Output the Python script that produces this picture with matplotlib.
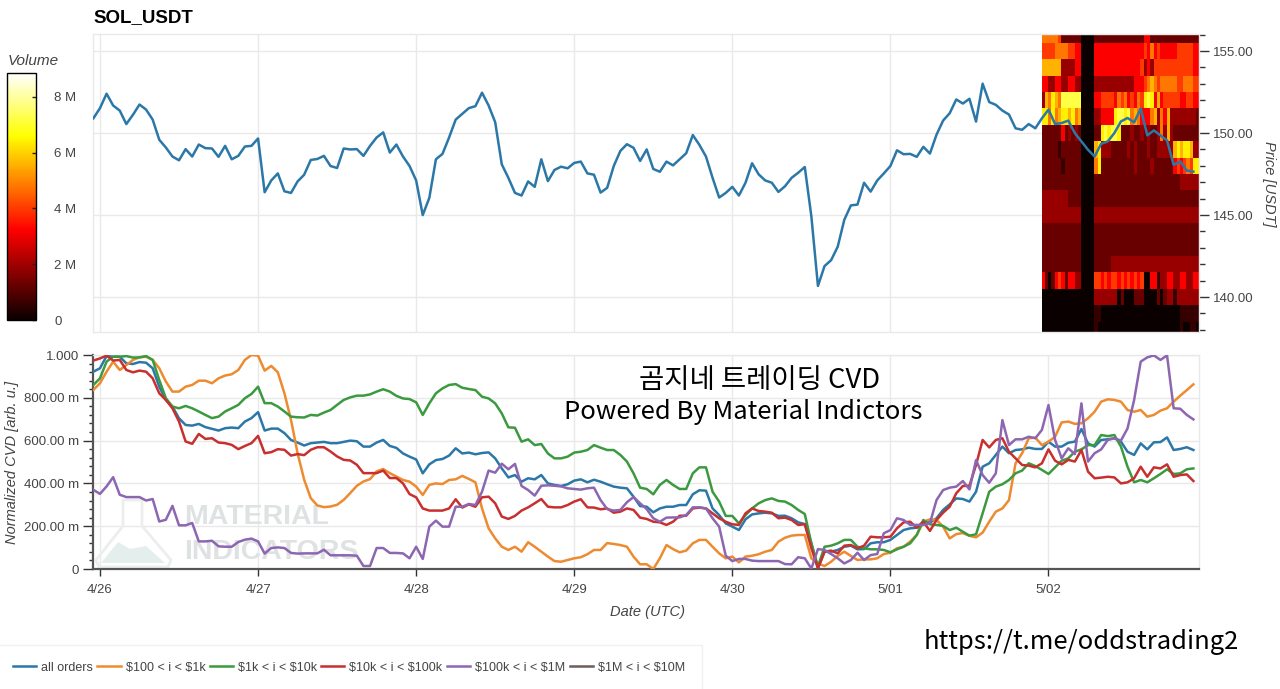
import matplotlib
matplotlib.use('Agg')
import matplotlib.pyplot as plt
from matplotlib.lines import Line2D
from matplotlib.patches import Polygon
import numpy as np

plt.rcParams['font.family'] = ['Liberation Sans', 'DejaVu Sans']

W, H = 1280, 689

day_labels = ['4/26', '4/27', '4/28', '4/29', '4/30', '5/01', '5/02']
day_hours = [0, 24, 48, 72, 96, 120, 144]

# hourly samples, first one is one hour before 4/26 00:00
price = [150.90, 151.52, 152.40, 151.68, 151.37, 150.55, 151.11, 151.74, 151.43, 150.82, 149.59, 149.12,
         148.57, 148.34, 149.02, 148.57, 149.30, 149.08, 149.06, 148.55, 149.22, 148.40, 148.61, 149.18,
         149.22, 149.67, 146.39, 147.11, 147.54, 146.45, 146.35, 147.05, 147.46, 148.36, 148.42, 148.61,
         147.99, 147.87, 149.06, 149.00, 149.02, 148.61, 149.22, 149.73, 150.04, 148.81, 149.30, 148.57,
         147.99, 147.11, 145.00, 146.05, 148.40, 148.73, 149.73, 150.82, 151.17, 151.52, 151.64, 152.46,
         151.68, 150.66, 148.09, 147.27, 146.35, 146.19, 147.05, 146.72, 148.40, 147.07, 147.75, 147.95,
         147.85, 148.18, 148.26, 147.54, 147.46, 146.37, 146.66, 147.99, 148.91, 149.32, 149.10, 148.30,
         149.00, 147.81, 147.64, 148.26, 148.03, 148.40, 148.77, 149.88, 149.28, 148.57, 147.27, 146.07,
         146.35, 146.72, 146.19, 146.97, 148.16, 147.48, 147.11, 146.97, 146.41, 146.76, 147.27, 147.58,
         147.93, 144.92, 140.68, 141.89, 142.25, 143.07, 144.71, 145.59, 145.64, 146.97, 146.43, 147.11,
         147.54, 147.99, 148.95, 148.71, 148.73, 148.55, 149.16, 148.75, 149.90, 150.76, 151.21, 152.05,
         151.80, 152.09, 150.70, 153.01, 151.89, 151.72, 151.37, 151.13, 150.29, 150.20, 150.55, 150.29,
         150.90, 151.43, 150.55, 150.61, 150.76, 150.00, 149.49, 148.98, 148.57, 149.35, 149.49, 150.00,
         150.71, 150.92, 150.65, 151.49, 149.86, 150.16, 149.86, 149.55, 148.06, 148.27, 147.71, 147.65]

# normalized cvd, in milli units
all_orders = [922, 938, 995, 992, 992, 961, 958, 967, 964, 938, 852, 790, 759, 704, 673, 670, 678, 663, 655, 647,
              658, 661, 658, 689, 705, 733, 647, 656, 656, 635, 603, 591, 577, 588, 591, 594, 588, 588, 594, 600,
              597, 572, 572, 591, 603, 575, 566, 540, 525, 512, 447, 489, 509, 514, 530, 564, 540, 544, 536, 542,
              545, 517, 470, 428, 439, 408, 424, 419, 439, 400, 393, 388, 396, 413, 419, 405, 417, 408, 396, 385,
              380, 377, 338, 294, 291, 265, 283, 291, 291, 299, 299, 349, 368, 366, 283, 252, 213, 198, 182, 232,
              255, 260, 263, 260, 248, 249, 237, 218, 210, 120, 3, 81, 81, 89, 104, 109, 92, 93, 120, 125,
              125, 136, 159, 182, 190, 193, 221, 217, 237, 276, 302, 330, 327, 315, 361, 478, 494, 533, 572,
              541, 556, 559, 567, 561, 561, 595, 572, 572, 590, 595, 654, 587, 572, 603, 606, 611, 595, 548, 533,
              587, 559, 592, 593, 615, 556, 561, 569, 556]
tier_100_1k = [837, 868, 922, 969, 930, 953, 977, 989, 992, 977, 938, 876, 829, 829, 852, 860, 880, 880, 868, 891,
               904, 910, 930, 977, 1000, 997, 927, 949, 919, 821, 697, 541, 417, 331, 297, 289, 292, 300, 323, 355,
               389, 409, 420, 456, 467, 448, 432, 416, 408, 385, 346, 393, 400, 397, 416, 419, 435, 421, 405, 283,
               190, 143, 104, 89, 104, 81, 125, 104, 81, 58, 37, 34, 42, 50, 55, 69, 89, 89, 121, 117,
               112, 104, 58, 22, 22, 0, 50, 112, 93, 78, 86, 120, 136, 136, 104, 73, 50, 58, 31, 58,
               62, 69, 81, 89, 128, 146, 156, 159, 159, 50, 26, 14, 34, 61, 81, 61, 42, 45, 45, 50,
               70, 76, 97, 104, 128, 159, 221, 232, 229, 198, 143, 163, 168, 155, 148, 170, 221, 268, 283, 322,
               494, 541, 611, 614, 579, 595, 618, 685, 689, 678, 681, 704, 735, 782, 793, 790, 782, 743, 735, 743,
               712, 720, 740, 751, 782, 810, 836, 863]
tier_1k_10k = [860, 891, 969, 992, 992, 995, 988, 989, 995, 977, 883, 798, 759, 751, 762, 751, 736, 720, 705, 712,
               736, 751, 767, 798, 818, 852, 775, 775, 759, 736, 712, 709, 708, 720, 717, 731, 743, 767, 790, 802,
               810, 810, 816, 829, 840, 829, 809, 797, 794, 779, 720, 774, 821, 844, 860, 864, 847, 841, 836, 805,
               797, 774, 727, 662, 660, 595, 606, 579, 584, 540, 517, 517, 525, 544, 548, 556, 579, 567, 556, 556,
               533, 502, 447, 380, 374, 349, 393, 416, 393, 374, 374, 447, 475, 475, 361, 315, 248, 248, 213, 252,
               283, 307, 322, 330, 318, 315, 299, 276, 257, 120, 11, 104, 109, 120, 136, 136, 104, 97, 92, 92,
               89, 78, 92, 104, 120, 159, 229, 209, 206, 201, 182, 193, 174, 156, 162, 260, 361, 385, 396, 416,
               447, 460, 494, 481, 463, 444, 475, 506, 517, 548, 559, 579, 579, 626, 621, 626, 572, 478, 405, 416,
               405, 424, 444, 466, 444, 447, 466, 470]
tier_10k_100k = [974, 984, 997, 974, 977, 930, 919, 927, 922, 891, 821, 790, 751, 689, 596, 585, 631, 608, 611, 591,
                 588, 580, 560, 575, 588, 622, 541, 546, 560, 557, 530, 537, 532, 557, 569, 569, 549, 526, 510, 507,
                 487, 448, 448, 448, 460, 425, 425, 400, 350, 335, 283, 273, 273, 273, 283, 326, 287, 302, 291, 335,
                 338, 307, 245, 234, 248, 273, 288, 307, 327, 291, 288, 288, 299, 315, 326, 288, 287, 279, 283, 263,
                 268, 283, 276, 240, 234, 221, 218, 206, 221, 249, 249, 283, 287, 283, 260, 237, 221, 209, 206, 260,
                 283, 271, 268, 263, 237, 240, 229, 206, 209, 97, 3, 81, 86, 73, 109, 112, 97, 109, 151, 148,
                 148, 151, 190, 218, 221, 193, 221, 178, 229, 263, 291, 354, 388, 389, 486, 603, 568, 603, 611, 548,
                 517, 486, 483, 475, 494, 559, 506, 489, 510, 502, 556, 455, 424, 427, 431, 428, 400, 405, 424, 478,
                 431, 475, 470, 489, 431, 439, 442, 411]
tier_100k_1m = [370, 351, 386, 429, 347, 336, 336, 336, 320, 327, 222, 230, 295, 204, 204, 215, 129, 129, 132, 106,
                104, 104, 126, 137, 142, 129, 72, 98, 101, 98, 75, 72, 73, 73, 73, 90, 64, 64, 64, 64,
                62, 14, 14, 98, 98, 75, 75, 73, 50, 104, 47, 198, 226, 198, 198, 291, 291, 304, 299, 361,
                460, 450, 492, 466, 491, 388, 369, 343, 389, 391, 389, 386, 377, 374, 371, 377, 380, 322, 280, 273,
                276, 312, 336, 307, 280, 237, 221, 240, 241, 241, 252, 288, 288, 283, 237, 198, 62, 37, 47, 47,
                39, 37, 37, 37, 37, 23, 22, 55, 50, 2, 93, 89, 70, 50, 26, 42, 76, 42, 65, 70,
                167, 182, 237, 229, 206, 206, 206, 214, 322, 369, 380, 385, 411, 372, 509, 439, 403, 447, 696, 579,
                606, 606, 618, 611, 650, 766, 603, 517, 564, 537, 774, 502, 541, 559, 603, 611, 600, 657, 790, 969,
                989, 998, 977, 998, 751, 749, 720, 699]
tier_1m_10m = []

series_names = ['all orders', r'\$100 < i < \$1k', r'\$1k < i < \$10k', r'\$10k < i < \$100k', r'\$100k < i < \$1M', r'\$1M < i < \$10M']
series_colors = ['#2b78a8', '#ee8a2f', '#3b9a40', '#c7302f', '#8d66b2', '#6b5f59']

cvd_ticks = [0, 200, 400, 600, 800, 1000]
cvd_tick_labels = ['0', '200.00 m', '400.00 m', '600.00 m', '800.00 m', '1.000']
price_ticks = [140, 145, 150, 155]
price_tick_labels = ['140.00', '145.00', '150.00', '155.00']
volume_ticks = [0, 2, 4, 6, 8]
volume_tick_labels = ['0', '2 M', '4 M', '6 M', '8 M']

# heatmap: half hour columns, one row per price bin, top to bottom
# each digit indexes volume_levels (millions)
volume_levels = [0, 0.6, 1.25, 1.9, 3.2, 4.0, 4.8, 5.6, 6.4, 7.2]
price_bins = [156.05, 155.5, 154.5, 153.5, 152.5, 151.5, 150.5, 149.5, 148.5, 147.5, 146.5,
              145.5, 144.5, 143.5, 142.5, 141.5, 140.5, 139.5, 138.5, 137.87]
heat_rows = [
    '666665222222' + '0000' + '22222222222222244222222222222222',
    '555566665544' + '0000' + '44444444444444454645444445555544',
    '777777333344' + '0000' + '44444444444444534355555555555544',
    '443344334433' + '0000' + '33333333333344456765666665566655',
    '376876999999' + '0000' + '44555546564546589847455555445544',
    '886867887867' + '0000' + '33444489989676444673647333333332',
    '222222423232' + '0000' + '22898998222322323223637322222222',
    '222221222222' + '0000' + '78333222223232223223333378788733',
    '222222122222' + '0000' + '68222222222232222322222245456588',
    '222222222222' + '0000' + '22222222222222222222222222333333',
    '333333332222' + '0000' + '22222222222222222222222222222222',
    '333333333333' + '0000' + '33333333333333333333333333333333',
    '222222222222' + '0000' + '22222222222222222222222222222222',
    '222222222222' + '0000' + '22222222222222222222222222222222',
    '222222222222' + '0000' + '22222333333333333333333333333333',
    '420245424433' + '0000' + '55454554545454500441334433443344',
    '000000000000' + '0000' + '33333330200022200002023313333333',
    '000000000000' + '0000' + '11000000000000000000000000111111',
    '000000000000' + '0000' + '10000000000000000000000000100110',
]


def px_rect(x0, y0, x1, y1):
    return [x0 / W, 1 - y1 / H, (x1 - x0) / W, (y1 - y0) / H]


def fx(x):
    return x / W


def fy(y):
    return 1 - y / H


fig = plt.figure(figsize=(W / 100, H / 100), dpi=100)
grid_color = '#e9e9e9'
text_color = '#444444'

hours = np.arange(len(price)) - 1
xlim = (-1.06, 166.85)

# price panel
ax1 = fig.add_axes(px_rect(93, 34, 1199, 332))
volume = np.array([[volume_levels[int(c)] for c in row] for row in heat_rows])
col_edges = 142.95 + 0.5 * np.arange(volume.shape[1] + 1)
mesh = ax1.pcolormesh(col_edges, price_bins, volume, cmap='hot', vmin=0, vmax=8.85, zorder=2)
ax1.plot(hours, price, color=series_colors[0], lw=1.8, zorder=3)
ax1.set_xlim(xlim)
ax1.set_ylim(137.87, 156.04)
ax1.set_xticks(day_hours)
ax1.tick_params(axis='x', length=0, labelbottom=False)
ax1.yaxis.tick_right()
ax1.yaxis.set_label_position('right')
ax1.set_yticks(price_ticks)
ax1.set_yticklabels(price_tick_labels)
ax1.set_yticks(np.arange(138, 157), minor=True)
ax1.tick_params(axis='y', which='major', length=7, width=1, color='#333333', labelcolor=text_color, labelsize=9.5, pad=3)
ax1.tick_params(axis='y', which='minor', length=4, width=1, color='#333333')
ax1.grid(True, which='major', color=grid_color, lw=1.0, zorder=0)
ax1.set_axisbelow(True)
for s in ax1.spines.values():
    s.set_color(grid_color)
    s.set_linewidth(1.0)
fig.text(fx(1269), fy(184), 'Price [USDT]', rotation=270, style='italic', fontsize=10.5, color=text_color, ha='center', va='center')
fig.text(fx(93), fy(18), 'SOL_USDT', fontsize=13.5, fontweight='bold', color='black', ha='left', va='center')

# volume colorbar
cax = fig.add_axes(px_rect(7, 73, 36, 320))
cbar = fig.colorbar(mesh, cax=cax)
cbar.set_ticks(volume_ticks)
cbar.set_ticklabels(volume_tick_labels)
cax.tick_params(direction='in', length=3, width=1, color='#222222', labelcolor=text_color, labelsize=9.5, pad=13)
cbar.outline.set_edgecolor('black')
cbar.outline.set_linewidth(1)
fig.text(fx(8), fy(61), 'Volume', style='italic', fontsize=11, color=text_color, ha='left', va='center')

# cvd panel
ax2 = fig.add_axes(px_rect(93, 355, 1199, 569))
all_series = [all_orders, tier_100_1k, tier_1k_10k, tier_10k_100k, tier_100k_1m]
for vals, col in zip(all_series, series_colors):
    ax2.plot(hours, vals, color=col, lw=1.8, zorder=3)
ax2.set_xlim(xlim)
ax2.set_ylim(0, 1000)
ax2.set_xticks(day_hours)
ax2.set_xticklabels(day_labels)
ax2.set_yticks(cvd_ticks)
ax2.set_yticklabels(cvd_tick_labels)
ax2.set_yticks(np.arange(0, 1001, 40), minor=True)
ax2.tick_params(axis='both', which='major', length=5, width=1, color='#333333', labelcolor=text_color, labelsize=9.5, pad=6)
ax2.tick_params(axis='y', which='major', length=7, pad=3)
ax2.tick_params(axis='y', which='minor', length=3, width=1, color='#333333')
ax2.grid(True, which='major', color=grid_color, lw=1.0, zorder=0)
ax2.set_axisbelow(True)
for side in ['top', 'right']:
    ax2.spines[side].set_color(grid_color)
    ax2.spines[side].set_linewidth(1.0)
for side in ['left', 'bottom']:
    ax2.spines[side].set_color('#555555')
    ax2.spines[side].set_linewidth(1.6)
fig.text(fx(12), fy(462), 'Normalized CVD [arb. u.]', rotation=90, style='italic', fontsize=10.5, color=text_color, ha='center', va='center')
fig.text(fx(647), fy(612), 'Date (UTC)', style='italic', fontsize=10.5, color=text_color, ha='center', va='center')

# watermark
ax2.text(fx(184), fy(517), 'MATERIAL', transform=fig.transFigure, fontsize=20.5, fontweight='bold', color='#dfe2e3', ha='left', va='center', zorder=1)
ax2.text(fx(184), fy(552), 'INDICATORS', transform=fig.transFigure, fontsize=20.5, fontweight='bold', color='#dfe2e3', ha='left', va='center', zorder=1)
flask_outline = [(123, 500), (123, 526), (96, 560), (99, 567), (168, 567), (171, 560), (142, 526), (142, 500)]
flask_fill = [(101, 563), (118, 542), (130, 549), (146, 546), (165, 563)]
ax2.add_patch(Polygon([(fx(x), fy(y)) for x, y in flask_outline], closed=True, fill=False, ec='#eceeee', lw=2, transform=fig.transFigure, zorder=1))
ax2.add_patch(Polygon([(fx(x), fy(y)) for x, y in flask_fill], closed=True, fc='#e4efed', ec='none', transform=fig.transFigure, zorder=1))

# overlaid captions
kr_font = ['Noto Sans CJK KR', 'DejaVu Sans']
fig.text(fx(760), fy(381), '곰지네 트레이딩 CVD', family=kr_font, fontsize=19.8, fontweight='medium', color='black', ha='center', va='center', zorder=6)
fig.text(fx(743), fy(412), 'Powered By Material Indictors', family=kr_font, fontsize=18.4, fontweight='medium', color='black', ha='center', va='center', zorder=6)
fig.text(fx(1081), fy(642), 'https://t.me/oddstrading2', family=kr_font, fontsize=18.4, fontweight='medium', color='black', ha='center', va='center', zorder=6)

# legend
handles = [Line2D([], [], color=c, lw=1.8) for c in series_colors]
ax2.plot(tier_1m_10m, tier_1m_10m, color=series_colors[5], lw=1.8)
leg = fig.legend(handles, series_names, ncol=6, loc='lower left', bbox_to_anchor=(-0.003, -0.002),
                 fontsize=9, labelcolor=text_color, frameon=True, fancybox=False, edgecolor='#eeeeee',
                 handlelength=1.85, handletextpad=0.4, columnspacing=0.35, borderpad=1.35, borderaxespad=0)
leg.get_frame().set_linewidth(1)

fig.savefig('out.png', dpi=100)
